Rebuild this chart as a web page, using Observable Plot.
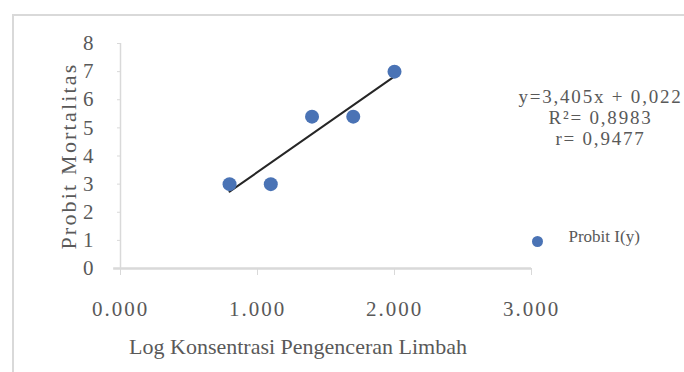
<!DOCTYPE html>
<html>
<head>
<meta charset="utf-8">
<script src="https://cdn.jsdelivr.net/npm/d3@7"></script>
<script src="https://cdn.jsdelivr.net/npm/@observablehq/plot@0.6"></script>
<style>
  html, body { margin: 0; padding: 0; background: #fff; }
  #wrap { position: relative; width: 684px; height: 372px; overflow: hidden; }
  #frame { position: absolute; left: 12px; top: 14px; width: 700px; height: 400px;
           border-top: 2px solid #d9d9d9; border-left: 2px solid #d9d9d9; box-sizing: border-box; }
  #chart { position: absolute; left: 0; top: 0; }
</style>
</head>
<body>
<div id="wrap"><div id="frame"></div><div id="chart"></div></div>
<script>
// Data
const logKonsentrasi = [0.796, 1.097, 1.398, 1.699, 2.0];
const probit = [3.0, 3.0, 5.4, 5.4, 7.0];
const xTicks = [0, 1, 2, 3];
const yTicks = [0, 1, 2, 3, 4, 5, 6, 7, 8];
const slope = 3.405;
const intercept = 0.022;
const equationText = "y=3,405x + 0,022\nR²= 0,8983\nr= 0,9477";
const legendLabel = "Probit I(y)";
const xTitle = "Log Konsentrasi Pengenceran Limbah";
const yTitle = "Probit Mortalitas";

const points = logKonsentrasi.map((x, i) => ({x, y: probit[i]}));
const xmin = d3.min(logKonsentrasi), xmax = d3.max(logKonsentrasi);
const trend = [xmin, xmax].map(x => ({x, y: slope * x + intercept}));

const textColor = "#595959";
const font = "'Liberation Serif', 'DejaVu Serif', serif";

const chart = Plot.plot({
  width: 684,
  height: 372,
  marginLeft: 120,
  marginRight: 153,
  marginTop: 43,
  marginBottom: 104,
  style: {fontFamily: font, color: textColor, background: "transparent", overflow: "visible"},
  x: {domain: [0, 3]},
  y: {domain: [0, 8]},
  marks: [
    Plot.axisY({ticks: yTicks, tickSize: 3, tickPadding: 24, stroke: "#d9d9d9", fontSize: 21, label: null, tickFormat: d => String(d), fill: textColor}),
    Plot.axisX({ticks: xTicks, tickSize: 7, tickPadding: 26, stroke: "#d9d9d9", fontSize: 21, label: null, tickFormat: d3.format(".3f"), fill: textColor}),
    Plot.ruleX([0], {stroke: "#d9d9d9", strokeWidth: 1.5}),
    Plot.ruleY([0], {stroke: "#d9d9d9", strokeWidth: 2.5, x1: -0.05, x2: 3}),
    Plot.line(trend, {x: "x", y: "y", stroke: "#262626", strokeWidth: 2}),
    Plot.dot(points, {x: "x", y: "y", r: 7, fill: "#4a73b5", stroke: "none"}),
    Plot.text([equationText], {frameAnchor: "top-right", dx: 69, dy: 74, text: d => d, textAnchor: "middle", lineAnchor: "middle", lineHeight: 1.1, fontSize: 19, fill: textColor}),
    Plot.dot([legendLabel], {frameAnchor: "bottom-right", dx: 6, dy: -27, r: 5.5, fill: "#4a73b5"}),
    Plot.text([legendLabel], {frameAnchor: "bottom-right", dx: 37, dy: -27, text: d => d, textAnchor: "start", fontSize: 17, fill: textColor}),
    Plot.text([yTitle], {frameAnchor: "left", dx: -52, rotate: -90, text: d => d, textAnchor: "middle", fontSize: 22, fill: textColor}),
    Plot.text([xTitle], {frameAnchor: "bottom", dx: -28, dy: 85, text: d => d, textAnchor: "middle", fontSize: 22, fill: textColor})
  ]
});
// the reference's lettering is set wider; apply letter spacing
const svg = d3.select(chart);
const xLabels = xTicks.map(d3.format(".3f"));
svg.selectAll("text").each(function () {
  const t = this.textContent;
  if (xLabels.includes(t)) this.style.letterSpacing = "2px";
  else if (t.startsWith("y=3,405x")) this.style.letterSpacing = "1.8px";
  else if (t === yTitle) this.style.letterSpacing = "2.2px";
});
document.getElementById("chart").appendChild(chart);
</script>
</body>
</html>
